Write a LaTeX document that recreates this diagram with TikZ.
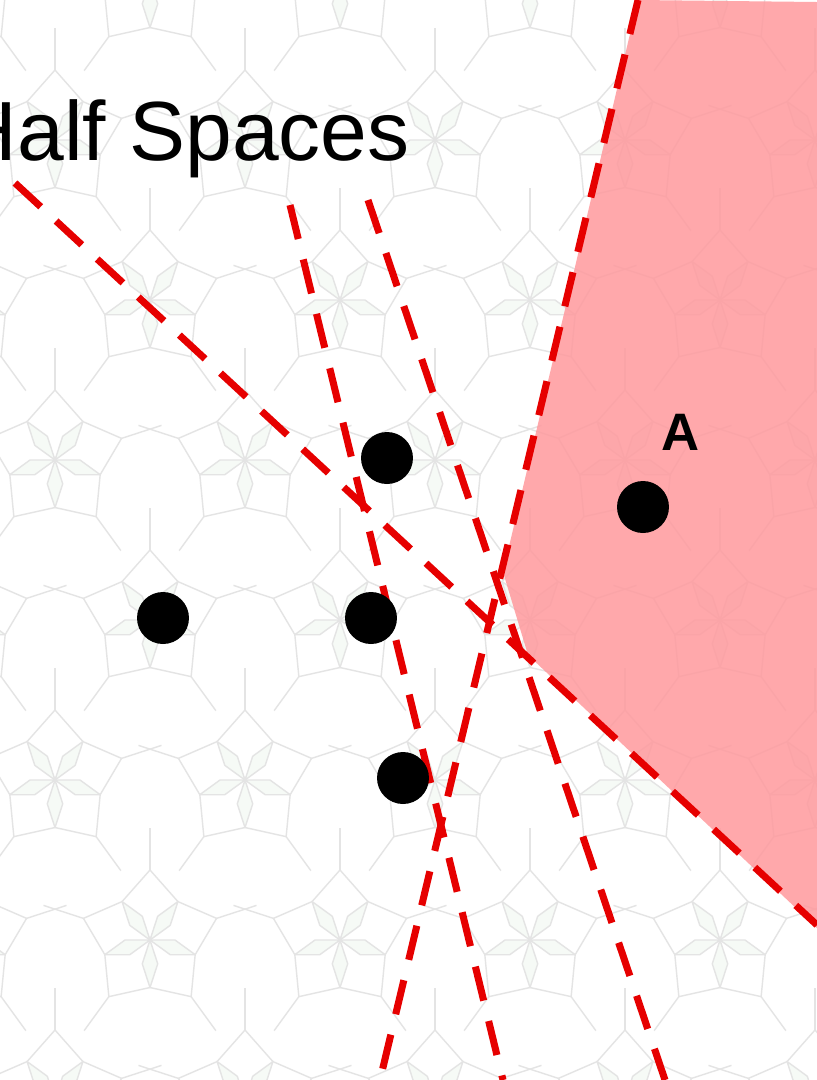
\documentclass[tikz,border=0pt]{standalone}
\usepackage{fontspec}
\setmainfont{Liberation Sans}
\usetikzlibrary{positioning, calc}
\definecolor{cutRed}{HTML}{E60000}
\definecolor{cellPink}{RGB}{255,153,157}
\definecolor{tileLine}{RGB}{228,228,228}
\definecolor{tileFill}{RGB}{246,250,246}

\begin{document}
\begin{tikzpicture}[x=0.02cm, y=-0.02cm,
  tile/.style={draw=tileLine, fill=tileFill, line width=0.8pt, line join=round},
  tileedge/.style={draw=tileLine, line width=0.8pt},
  cut/.style={draw=cutRed, line width=4pt, dash pattern=on 0.7cm off 0.42cm},
  dot/.style={circle, fill=black, minimum size=1.04cm, inner sep=0pt},
]
  % page
  \useasboundingbox (0,0) rectangle (817,1080);
  \fill[white] (0,0) rectangle (817,1080);
  % faint tiling in the background
  \begin{scope}
    \clip (0,0) rectangle (817,1080);
    \foreach \j in {0,...,7}{
      \foreach \i in {0,...,5}{
        \pgfmathsetmacro{\cx}{\i*190+mod(\j,2)*95-40}
        \pgfmathsetmacro{\cy}{\j*160-20}
        \foreach \k in {0,...,4}{
          \pgfmathsetmacro{\a}{90+72*\k}
          \filldraw[tile] (\cx,\cy) -- ++(\a-18:25) -- ++(\a+18:25) -- ++(\a+162:25) -- cycle;
          \draw[tileedge] ($(\cx,\cy)+(\a:47.5)$) -- ($(\cx,\cy)+(\a+36:70)$) -- ($(\cx,\cy)+(\a+72:47.5)$);
          \draw[tileedge] ($(\cx,\cy)+(\a+36:70)$) -- ($(\cx,\cy)+(\a+36:112)$);
        }
      }
    }
  \end{scope}
  % cell of A
  \fill[cellPink, fill opacity=0.85] (638,0) -- (817,2) -- (817,928) -- (528,655) -- (503,572) -- cycle;
  % ends of the cutting lines
  \coordinate (c1s) at (15,183);   \coordinate (c1e) at (817,925);
  \coordinate (c2s) at (290,205);  \coordinate (c2e) at (503,1080);
  \coordinate (c3s) at (368,200);  \coordinate (c3e) at (665,1080);
  \coordinate (c4s) at (638,0);    \coordinate (c4e) at (380,1080);
  \draw[cut] (c1s) -- (c1e);
  \draw[cut] (c2s) -- (c2e);
  \draw[cut] (c3s) -- (c3e);
  \draw[cut] (c4s) -- (c4e);
  % points
  \node[dot] (ptTop) at (387,458) {};
  \node[dot] (ptA) at (643,507) {};
  \node[dot] (ptLeft) at (163,618) {};
  \node[dot] (ptMid) at (371,618) {};
  \node[dot] (ptLow) at (403,778) {};
  \node[font=\bfseries\fontsize{30}{32}\selectfont, anchor=base, inner sep=0pt] (lblA) at (681,450) {A};
  % title
  \node[font=\fontsize{47.8}{50}\selectfont, anchor=base east, inner sep=0pt] (title) at (410,160) {Half Spaces};
\end{tikzpicture}
\end{document}
